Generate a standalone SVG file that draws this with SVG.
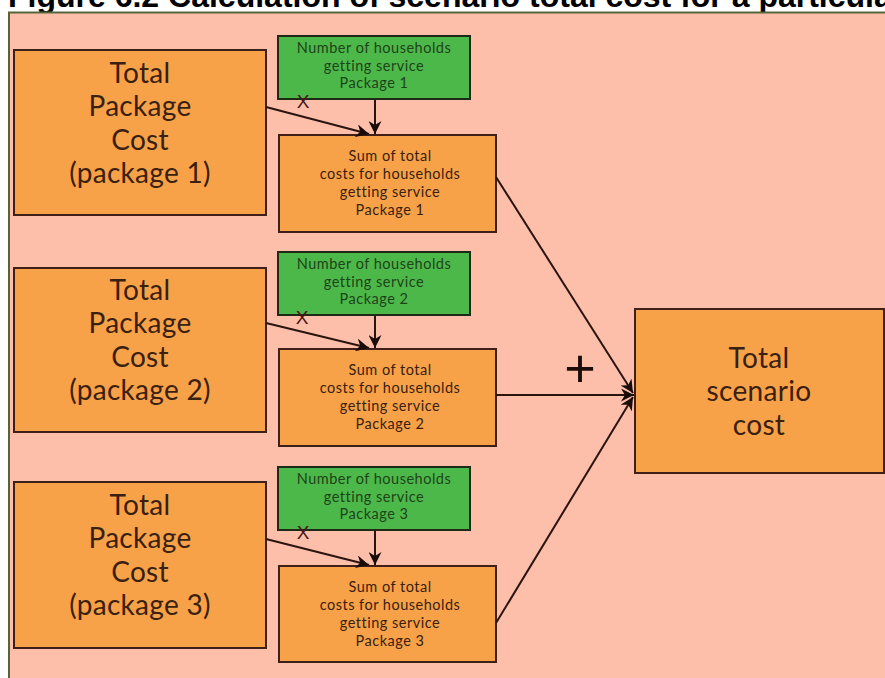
<svg xmlns="http://www.w3.org/2000/svg" width="885" height="678" viewBox="0 0 885 678">
<style>
.pc{fill:#F7A248;stroke:#3f1f18;stroke-width:2}
.gr{fill:#4DB84A;stroke:#1e2a16;stroke-width:2}
.big{font-family:Lato,"Open Sans",sans-serif;font-size:28px;fill:#3a2010;text-anchor:middle;letter-spacing:0.3px}
.gt{font-family:Lato,"Open Sans",sans-serif;font-size:14.5px;fill:#1d4418;text-anchor:middle;letter-spacing:0.5px}
.st{font-family:Lato,"Open Sans",sans-serif;font-size:14.5px;fill:#3a2010;text-anchor:middle;letter-spacing:0.5px}
.x{font-family:"Liberation Sans",Arial,sans-serif;font-size:19px;fill:#4a1414;text-anchor:middle}
.ln{stroke:#2a1410;stroke-width:2;fill:none}
</style>
<defs>
<marker id="ah" viewBox="0 0 10 10" refX="10" refY="5" markerWidth="6.5" markerHeight="6.5" orient="auto" markerUnits="strokeWidth">
<path d="M0,0 L10,5 L0,10 L3,5 z" fill="#1a0c08"/>
</marker>
</defs>
<rect width="885" height="678" fill="#ffffff"/>
<text x="8" y="7" font-family="'Liberation Sans',Arial,sans-serif" font-weight="bold" font-size="32" fill="#000">Figure 6.2 Calculation of scenario total cost for a particular</text>
<rect x="9" y="12.5" width="890" height="680" fill="#FDBFAA" stroke="#56643a" stroke-width="2"/>

<g id="pkg1">
<rect class="pc" x="14" y="50" width="252" height="165"/>
<text class="big"><tspan x="140" y="82.5">Total</tspan><tspan x="140" y="116">Package</tspan><tspan x="140" y="149.5">Cost</tspan><tspan x="140" y="183">(package 1)</tspan></text>
</g>
<g id="pkg2">
<rect class="pc" x="14" y="268" width="252" height="164"/>
<text class="big"><tspan x="140" y="299.5">Total</tspan><tspan x="140" y="333">Package</tspan><tspan x="140" y="366.5">Cost</tspan><tspan x="140" y="400">(package 2)</tspan></text>
</g>
<g id="pkg3">
<rect class="pc" x="14" y="482" width="252" height="166"/>
<text class="big"><tspan x="140" y="514.5">Total</tspan><tspan x="140" y="548">Package</tspan><tspan x="140" y="581.5">Cost</tspan><tspan x="140" y="615">(package 3)</tspan></text>
</g>

<g id="hh1">
<rect class="gr" x="278" y="36" width="192" height="63"/>
<text class="gt"><tspan x="374" y="53">Number of households</tspan><tspan x="374" y="70.5">getting service</tspan><tspan x="374" y="88">Package 1</tspan></text>
</g>
<g id="hh2">
<rect class="gr" x="278" y="252" width="192" height="63"/>
<text class="gt"><tspan x="374" y="269">Number of households</tspan><tspan x="374" y="286.5">getting service</tspan><tspan x="374" y="304">Package 2</tspan></text>
</g>
<g id="hh3">
<rect class="gr" x="278" y="467" width="192" height="63"/>
<text class="gt"><tspan x="374" y="484">Number of households</tspan><tspan x="374" y="501.5">getting service</tspan><tspan x="374" y="519">Package 3</tspan></text>
</g>

<g id="sum1">
<rect class="pc" x="279" y="135" width="217" height="97"/>
<text class="st"><tspan x="390" y="161">Sum of total</tspan><tspan x="390" y="179">costs for households</tspan><tspan x="390" y="197">getting service</tspan><tspan x="390" y="215">Package 1</tspan></text>
</g>
<g id="sum2">
<rect class="pc" x="279" y="349" width="217" height="97"/>
<text class="st"><tspan x="390" y="375">Sum of total</tspan><tspan x="390" y="393">costs for households</tspan><tspan x="390" y="411">getting service</tspan><tspan x="390" y="429">Package 2</tspan></text>
</g>
<g id="sum3">
<rect class="pc" x="279" y="566" width="217" height="96"/>
<text class="st"><tspan x="390" y="592">Sum of total</tspan><tspan x="390" y="610">costs for households</tspan><tspan x="390" y="628">getting service</tspan><tspan x="390" y="646">Package 3</tspan></text>
</g>

<g id="total">
<rect class="pc" x="635" y="309" width="249" height="164"/>
<text class="big"><tspan x="759" y="367.5">Total</tspan><tspan x="759" y="401">scenario</tspan><tspan x="759" y="434.5">cost</tspan></text>
</g>

<g id="connectors">
<line class="ln" x1="266" y1="107" x2="369" y2="134" marker-end="url(#ah)"/>
<line class="ln" x1="375" y1="100" x2="375" y2="134" marker-end="url(#ah)"/>
<line class="ln" x1="266" y1="323" x2="369" y2="348" marker-end="url(#ah)"/>
<line class="ln" x1="375" y1="316" x2="375" y2="348" marker-end="url(#ah)"/>
<line class="ln" x1="266" y1="539" x2="369" y2="565" marker-end="url(#ah)"/>
<line class="ln" x1="375" y1="531" x2="375" y2="565" marker-end="url(#ah)"/>
<line class="ln" x1="496" y1="177" x2="633" y2="393" marker-end="url(#ah)"/>
<line class="ln" x1="496" y1="395" x2="634" y2="395" marker-end="url(#ah)"/>
<line class="ln" x1="496" y1="623" x2="633" y2="397" marker-end="url(#ah)"/>
<text class="x" x="303" y="108">X</text>
<text class="x" x="302" y="324">X</text>
<text class="x" x="303" y="539">X</text>
<text x="580" y="387" font-family="'Liberation Sans',Arial,sans-serif" font-size="54" fill="#1a0c08" text-anchor="middle">+</text>
</g>
</svg>
